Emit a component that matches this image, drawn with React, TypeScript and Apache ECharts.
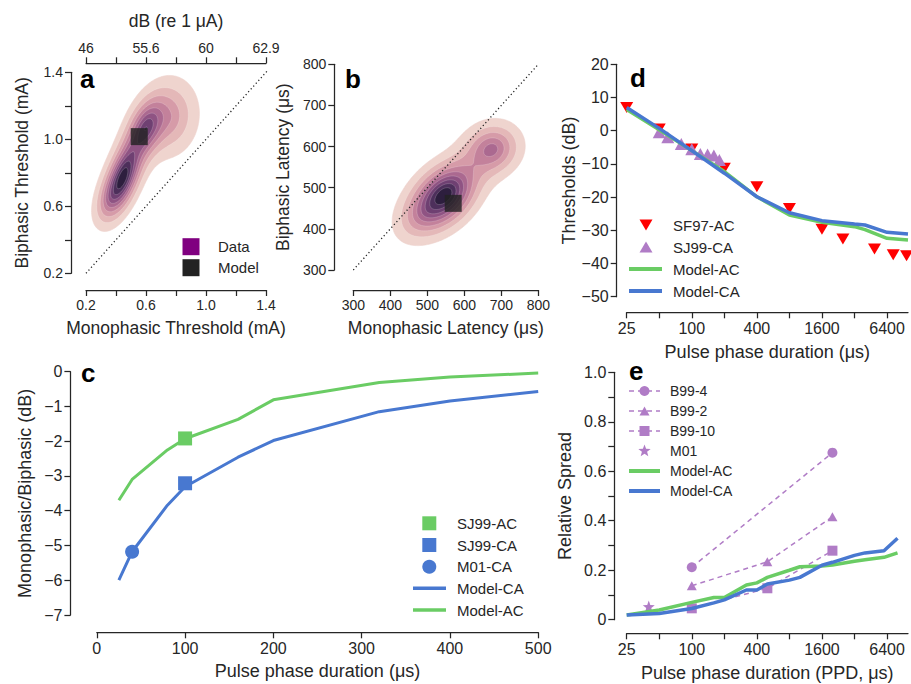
import React, { useEffect, useRef } from 'react';
import * as echarts from 'echarts';

const FONT = '"Liberation Sans", Arial, Helvetica, sans-serif';
const INK = '#262626';
const GREEN = '#6acc64';
const BLUE = '#4878d0';
const RED = '#ff0000';
const PURPLE = '#b07cc6';

// ---------- Panel a : thresholds ----------
const thrLabelVals = [0.2, 0.6, 1.0, 1.4];
const dbTickLabels = ['46', '55.6', '60', '62.9'];
// density surface components: [meanX, meanY, sdX, sdY, rho, height]
const thrKde = [
  [0.45, 0.78, 0.08, 0.135, 0.55, 1.0],
  [0.37, 0.66, 0.072, 0.1, 0.5, 0.3],
  [0.6, 1.07, 0.08, 0.11, 0.4, 0.7],
  [0.77, 1.13, 0.12, 0.15, 0.1, 0.37],
];
const thrModel = [[0.555, 1.016]];
const thrDiag = [[0.2, 0.2], [1.45, 1.45]];

// ---------- Panel b : latencies ----------
const latKde = [
  [550, 485, 52, 47, 0.35, 1.0],
  [495, 440, 52, 45, 0.4, 0.32],
  [675, 594, 47, 39, 0.1, 0.6],
];
const latModel = [[570, 462]];
const latDiag = [[300, 300], [800, 800]];

// ---------- Panel c ----------
const cPpd = [25, 40, 80, 100, 160, 200, 320, 400, 500];
const cModelAC = [-3.7, -3.1, -2.25, -1.93, -1.37, -0.81, -0.31, -0.15, -0.04];
const cModelCA = [-6.0, -5.18, -3.84, -3.31, -2.46, -1.98, -1.15, -0.84, -0.57];
const cSJ99AC = [[100, -1.92]];
const cSJ99CA = [[100, -3.21]];
const cM01CA = [[40, -5.18]];

// ---------- Panel d ----------
const logTicks = [25, 50, 100, 200, 400, 800, 1600, 3200, 6400];
const logLabels = [25, 100, 400, 1600, 6400];
const sf97Ppd = [25, 50, 100, 200, 400, 800, 1600, 2500, 4900, 7300, 9700];
const sf97Thr = [7, 0.5, -5.5, -11.3, -16.9, -23.4, -29.7, -32.6, -35.6, -37.4, -37.7];
const sj99Ppd = [50, 60, 80, 100, 120, 140, 160, 180];
const sj99Thr = [-0.5, -2, -4, -5.6, -7, -7.2, -7.5, -8.8];
const dModelPpd = [25, 50, 100, 200, 400, 800, 1600, 3200, 4000, 6400, 10000];
const dModelAC = [6.4, 0.3, -6.0, -12.3, -19.9, -25.4, -27.6, -28.9, -29.8, -32.4, -32.9];
const dModelCA = [7.0, 0.7, -6.0, -12.8, -19.9, -24.7, -27.1, -28.1, -28.4, -30.6, -31.1];

// ---------- Panel e ----------
const b99_4 = [[100, 0.212], [2000, 0.675]];
const b99_2 = [[100, 0.137], [500, 0.234], [2000, 0.416]];
const b99_10 = [[100, 0.046], [500, 0.127], [2000, 0.279]];
const m01 = [[40, 0.053]];
const eModelPpd = [25, 50, 100, 160, 200, 320, 400, 500, 800, 1000, 1600, 2000, 3200, 4000, 6000, 8000];
const eModelAC = [0.019, 0.039, 0.07, 0.09, 0.09, 0.14, 0.149, 0.171, 0.2, 0.214, 0.217, 0.221, 0.236, 0.242, 0.252, 0.27];
const eModelCA = [0.019, 0.025, 0.045, 0.068, 0.08, 0.12, 0.12, 0.144, 0.16, 0.171, 0.22, 0.232, 0.26, 0.27, 0.279, 0.329];

// ---------- helpers ----------
const zip = (xs: number[], ys: number[]) => xs.map((x, i) => [x, ys[i]]);
const minus = (v: number) => String(v).replace('-', '\u2212');

function cubehelix(x: number): string {
  const hue = 0.8, rot = 0.4, start = 0;
  const a = (hue * x * (1 - x)) / 2;
  const phi = 2 * Math.PI * (start / 3 + rot * x);
  const c = Math.cos(phi), s = Math.sin(phi);
  const cl = (v: number) => Math.round(Math.max(0, Math.min(1, v)) * 255);
  const r = cl(x + a * (-0.14861 * c + 1.78277 * s));
  const g = cl(x + a * (-0.29227 * c - 0.90649 * s));
  const b = cl(x + a * (1.97294 * c));
  return `rgb(${r},${g},${b})`;
}
const cmap = (t: number) => cubehelix(0.95 + (0.15 - 0.95) * t);

function dens(comps: number[][], x: number, y: number) {
  let s = 0;
  for (const [mx, my, sx, sy, rho, w] of comps) {
    const dx = (x - mx) / sx, dy = (y - my) / sy;
    const q = (dx * dx - 2 * rho * dx * dy + dy * dy) / (1 - rho * rho);
    s += w * Math.exp(-Math.pow(q / 2, 0.85));
  }
  return s;
}

type Pt = [number, number];
function isoLoops(xs: number[], ys: number[], z: number[][], L: number): Pt[][] {
  const pts = new Map<string, Pt>();
  const adj = new Map<string, string[]>();
  const add = (a: string, b: string) => {
    if (!adj.has(a)) adj.set(a, []);
    if (!adj.has(b)) adj.set(b, []);
    adj.get(a)!.push(b);
    adj.get(b)!.push(a);
  };
  const lerp = (x0: number, y0: number, v0: number, x1: number, y1: number, v1: number): Pt => {
    const t = (L - v0) / (v1 - v0);
    return [x0 + t * (x1 - x0), y0 + t * (y1 - y0)];
  };
  for (let j = 0; j < ys.length - 1; j++) {
    for (let i = 0; i < xs.length - 1; i++) {
      const v0 = z[j][i], v1 = z[j][i + 1], v2 = z[j + 1][i + 1], v3 = z[j + 1][i];
      const c = (v0 >= L ? 1 : 0) | (v1 >= L ? 2 : 0) | (v2 >= L ? 4 : 0) | (v3 >= L ? 8 : 0);
      if (c === 0 || c === 15) continue;
      const e = [
        () => { const k = `h${i},${j}`; if (!pts.has(k)) pts.set(k, lerp(xs[i], ys[j], v0, xs[i + 1], ys[j], v1)); return k; },
        () => { const k = `v${i + 1},${j}`; if (!pts.has(k)) pts.set(k, lerp(xs[i + 1], ys[j], v1, xs[i + 1], ys[j + 1], v2)); return k; },
        () => { const k = `h${i},${j + 1}`; if (!pts.has(k)) pts.set(k, lerp(xs[i], ys[j + 1], v3, xs[i + 1], ys[j + 1], v2)); return k; },
        () => { const k = `v${i},${j}`; if (!pts.has(k)) pts.set(k, lerp(xs[i], ys[j], v0, xs[i], ys[j + 1], v3)); return k; },
      ];
      const center = (v0 + v1 + v2 + v3) / 4 >= L;
      let pairs: number[][] = [];
      switch (c) {
        case 1: case 14: pairs = [[3, 0]]; break;
        case 2: case 13: pairs = [[0, 1]]; break;
        case 3: case 12: pairs = [[3, 1]]; break;
        case 4: case 11: pairs = [[1, 2]]; break;
        case 6: case 9: pairs = [[0, 2]]; break;
        case 7: case 8: pairs = [[3, 2]]; break;
        case 5: pairs = center ? [[0, 1], [2, 3]] : [[3, 0], [1, 2]]; break;
        case 10: pairs = center ? [[3, 0], [1, 2]] : [[0, 1], [2, 3]]; break;
      }
      for (const [a, b] of pairs) add(e[a](), e[b]());
    }
  }
  const seen = new Set<string>();
  const loops: Pt[][] = [];
  for (const start of adj.keys()) {
    if (seen.has(start)) continue;
    const loop: Pt[] = [];
    let prev: string | null = null;
    let cur = start;
    for (;;) {
      seen.add(cur);
      loop.push(pts.get(cur)!);
      const nb = adj.get(cur)!;
      const next = nb[0] === prev ? nb[1] : nb[0];
      if (next === undefined || seen.has(next)) break;
      prev = cur;
      cur = next;
    }
    if (loop.length > 2) loops.push(loop);
  }
  return loops;
}

const NLEV = 9;
function buildKde(comps: number[][], xr: number[], yr: number[], n: number) {
  const xs: number[] = [], ys: number[] = [];
  for (let i = 0; i <= n; i++) {
    xs.push(xr[0] + ((xr[1] - xr[0]) * i) / n);
    ys.push(yr[0] + ((yr[1] - yr[0]) * i) / n);
  }
  const z = ys.map((y) => xs.map((x) => dens(comps, x, y)));
  let zmax = 0;
  z.forEach((r) => r.forEach((v) => { if (v > zmax) zmax = v; }));
  const polys: { pts: Pt[]; color: string; k: number }[] = [];
  for (let k = 1; k <= NLEV; k++) {
    const L = (zmax * k) / (NLEV + 1);
    const color = cmap(k / NLEV);
    isoLoops(xs, ys, z, L).forEach((pts) => polys.push({ pts, color, k }));
  }
  return polys;
}

function starPath() {
  const p: string[] = [];
  for (let i = 0; i < 10; i++) {
    const r = i % 2 === 0 ? 1 : 0.42;
    const a = -Math.PI / 2 + (i * Math.PI) / 5;
    p.push(`${(r * Math.cos(a)).toFixed(3)},${(r * Math.sin(a)).toFixed(3)}`);
  }
  return p;
}

function kdeSeries(polys: { pts: Pt[]; color: string; k: number }[], xi: number, yi: number) {
  return {
    type: 'custom',
    xAxisIndex: xi,
    yAxisIndex: yi,
    clip: true,
    silent: true,
    z: 1,
    data: polys.map((p) => p.pts[0]),
    encode: { x: 0, y: 1 },
    renderItem: (params: any, api: any) => {
      const p = polys[params.dataIndex];
      return {
        type: 'polygon',
        shape: { points: p.pts.map((q) => api.coord(q)) },
        style: { fill: p.color, stroke: p.k > 1 ? 'rgba(255,255,255,0.3)' : p.color, lineWidth: 0.6 },
      };
    },
  };
}

function axis(fontSize: number, extra: any) {
  return {
    nameLocation: 'middle',
    nameTextStyle: { color: INK, fontSize: 18, fontFamily: FONT },
    axisLine: { show: true, onZero: false, lineStyle: { color: INK, width: 1.25 } },
    splitLine: { show: false },
    ...extra,
    axisTick: { show: true, length: 6, lineStyle: { color: INK, width: 1.25 }, ...(extra.axisTick || {}) },
    axisLabel: { color: INK, fontSize, fontFamily: FONT, margin: 8, ...(extra.axisLabel || {}) },
  };
}

const thrFmt = (v: number) => (thrLabelVals.some((t) => Math.abs(t - v) < 1e-6) ? v.toFixed(1) : '');
const dbFmt = (v: number) => {
  const i = thrLabelVals.findIndex((t) => Math.abs(t - v) < 1e-6);
  return i >= 0 ? dbTickLabels[i] : '';
};

export default function App() {
  const ref = useRef<HTMLDivElement>(null);
  useEffect(() => {
    if (!ref.current) return;
    const chart = echarts.init(ref.current, null, { renderer: 'svg' });
    const polysA = buildKde(thrKde, [0, 1.6], [0, 1.8], 160);
    const polysB = buildKde(latKde, [150, 1000], [150, 950], 170);
    const star = starPath();

    const txt = (x: number, y: number, s: string, size = 15, bold = false) => ({
      type: 'text', x, y, z: 100,
      style: { text: s, fill: bold ? '#000' : INK, fontSize: size, fontFamily: FONT, fontWeight: bold ? 'bold' : 'normal', textVerticalAlign: 'middle', verticalAlign: 'middle', textAlign: 'left', align: 'left' },
    });
    const rect = (cx: number, cy: number, s: number, fill: string) => ({ type: 'rect', z: 100, shape: { x: cx - s / 2, y: cy - s / 2, width: s, height: s }, style: { fill } });
    const circ = (cx: number, cy: number, r: number, fill: string) => ({ type: 'circle', z: 100, shape: { cx, cy, r }, style: { fill } });
    const seg = (x1: number, x2: number, y: number, stroke: string, w: number, dash?: number[]) => ({ type: 'line', z: 100, shape: { x1, y1: y, x2, y2: y }, style: { stroke, lineWidth: w, lineDash: dash || null } });
    const tri = (cx: number, cy: number, w: number, h: number, fill: string, down: boolean) => ({
      type: 'polygon', z: 100,
      shape: { points: down ? [[cx - w / 2, cy - h / 2], [cx + w / 2, cy - h / 2], [cx, cy + h / 2]] : [[cx - w / 2, cy + h / 2], [cx + w / 2, cy + h / 2], [cx, cy - h / 2]] },
      style: { fill },
    });
    const starG = (cx: number, cy: number, r: number, fill: string) => ({
      type: 'polygon', z: 100,
      shape: { points: star.map((s) => { const [a, b] = s.split(',').map(Number); return [cx + a * r, cy + b * r]; }) },
      style: { fill },
    });

    const graphic: any[] = [
      txt(80, 79, 'a', 26, true),
      txt(345, 79, 'b', 26, true),
      txt(81, 373, 'c', 26, true),
      txt(630, 78, 'd', 26, true),
      txt(629, 371, 'e', 26, true),
      // legend a
      rect(191, 246.7, 17, '#800080'), txt(218, 246.7, 'Data'),
      rect(191, 267.7, 17, '#222222'), txt(218, 267.7, 'Model'),
      // legend c
      rect(429.3, 523.3, 14, GREEN), txt(457, 523.3, 'SJ99-AC'),
      rect(429.3, 545, 14, BLUE), txt(457, 545, 'SJ99-CA'),
      circ(429.3, 566.7, 7, BLUE), txt(457, 566.7, 'M01-CA'),
      seg(413, 446, 588.3, BLUE, 3.5), txt(457, 588.3, 'Model-CA'),
      seg(413, 446, 610, GREEN, 3.5), txt(457, 610, 'Model-AC'),
      // legend d
      tri(646, 225, 13, 11, RED, true), txt(673, 225, 'SF97-AC'),
      tri(646, 247, 13, 11, PURPLE, false), txt(673, 247, 'SJ99-CA'),
      seg(629, 662, 269, GREEN, 4), txt(673, 269, 'Model-AC'),
      seg(629, 662, 291, BLUE, 4), txt(673, 291, 'Model-CA'),
      // legend e
      seg(629, 660, 391, PURPLE, 1.5, [5, 4]), circ(644.5, 391, 5, PURPLE), txt(670, 391, 'B99-4', 14),
      seg(629, 660, 411, PURPLE, 1.5, [5, 4]), tri(644.5, 411, 10, 9, PURPLE, false), txt(670, 411, 'B99-2', 14),
      seg(629, 660, 431, PURPLE, 1.5, [5, 4]), rect(644.5, 431, 10, PURPLE), txt(670, 431, 'B99-10', 14),
      starG(644.5, 451, 6.5, PURPLE), txt(670, 451, 'M01', 14),
      seg(629, 660, 471, GREEN, 4), txt(670, 471, 'Model-AC', 14),
      seg(629, 660, 491, BLUE, 4), txt(670, 491, 'Model-CA', 14),
    ];

    const logAxis = (gi: number, off: number) =>
      axis(16, {
        type: 'log', logBase: 2, gridIndex: gi, min: 25, max: 10000, offset: off,
        name: gi === 3 ? 'Pulse phase duration (\u03bcs)' : 'Pulse phase duration (PPD, \u03bcs)',
        nameGap: 31,
        axisTick: { customValues: logTicks },
        axisLabel: { customValues: logLabels, formatter: (v: number) => String(Math.round(v)) },
      });

    const option: any = {
      animation: false,
      backgroundColor: '#ffffff',
      graphic,
      grid: [
        { left: 86, top: 72.3, width: 180, height: 201 },
        { left: 353.3, top: 64.3, width: 185, height: 205.7 },
        { left: 96.8, top: 371.7, width: 441.4, height: 243.3 },
        { left: 626.7, top: 64.3, width: 281.3, height: 232.4 },
        { left: 626.7, top: 372.3, width: 281.3, height: 247.4 },
      ],
      xAxis: [
        axis(14, { type: 'value', gridIndex: 0, min: 0.2, max: 1.4, interval: 0.2, offset: 16.7, name: 'Monophasic Threshold (mA)', nameGap: 29, nameTextStyle: { color: INK, fontSize: 17.5, fontFamily: FONT }, axisLabel: { formatter: thrFmt } }),
        axis(14, { type: 'value', gridIndex: 0, position: 'top', min: 0.2, max: 1.4, interval: 0.2, offset: 9, name: 'dB (re 1 \u03bcA)', nameGap: 33, nameTextStyle: { color: INK, fontSize: 17.5, fontFamily: FONT }, axisLabel: { formatter: dbFmt } }),
        axis(14, { type: 'value', gridIndex: 1, min: 300, max: 800, interval: 100, offset: 20, name: 'Monophasic Latency (\u03bcs)', nameGap: 29, nameTextStyle: { color: INK, fontSize: 17.5, fontFamily: FONT } }),
        axis(16, { type: 'value', gridIndex: 2, min: 0, max: 500, interval: 100, offset: 17.3, name: 'Pulse phase duration (\u03bcs)', nameGap: 30 }),
        logAxis(3, 15.6),
        logAxis(4, 13.6),
      ],
      yAxis: [
        axis(14, { type: 'value', gridIndex: 0, min: 0.2, max: 1.4, interval: 0.2, offset: 15, name: 'Biphasic Threshold (mA)', nameGap: 40, nameTextStyle: { color: INK, fontSize: 17.5, fontFamily: FONT }, axisLabel: { formatter: thrFmt } }),
        axis(14, { type: 'value', gridIndex: 1, min: 300, max: 800, interval: 100, offset: 19, name: 'Biphasic Latency (\u03bcs)', nameGap: 42, nameTextStyle: { color: INK, fontSize: 17.5, fontFamily: FONT } }),
        axis(16, { type: 'value', gridIndex: 2, min: -7, max: 0, interval: 1, offset: 26.4, name: 'Monophasic/Biphasic (dB)', nameGap: 36, axisLabel: { formatter: minus } }),
        axis(16, { type: 'value', gridIndex: 3, min: -50, max: 20, interval: 10, offset: 10, name: 'Thresholds (dB)', nameGap: 38, axisLabel: { formatter: minus } }),
        axis(16, { type: 'value', gridIndex: 4, min: 0, max: 1, interval: 0.1, offset: 12.4, name: 'Relative Spread', nameGap: 40, axisLabel: { formatter: (v: number) => { const k = Math.round(v * 10); return k % 2 ? '' : k === 0 ? '0' : (k / 10).toFixed(1); } } }),
      ],
      series: [
        // a
        kdeSeries(polysA, 0, 0),
        { type: 'line', xAxisIndex: 0, yAxisIndex: 0, data: thrDiag, clip: false, symbol: 'none', z: 3, lineStyle: { color: '#222', width: 1.3, type: [1.2, 2.6] } },
        { type: 'scatter', xAxisIndex: 0, yAxisIndex: 0, data: thrModel, symbol: 'rect', symbolSize: 17, z: 4, itemStyle: { color: '#222222' } },
        // b
        kdeSeries(polysB, 2, 1),
        { type: 'line', xAxisIndex: 2, yAxisIndex: 1, data: latDiag, clip: false, symbol: 'none', z: 3, lineStyle: { color: '#222', width: 1.3, type: [1.2, 2.6] } },
        { type: 'scatter', xAxisIndex: 2, yAxisIndex: 1, data: latModel, symbol: 'rect', symbolSize: 17, z: 4, itemStyle: { color: '#222222' } },
        // c
        { name: 'Model-AC', type: 'line', xAxisIndex: 3, yAxisIndex: 2, data: zip(cPpd, cModelAC), symbol: 'none', z: 2, lineStyle: { color: GREEN, width: 3 } },
        { name: 'Model-CA', type: 'line', xAxisIndex: 3, yAxisIndex: 2, data: zip(cPpd, cModelCA), symbol: 'none', z: 2, lineStyle: { color: BLUE, width: 3 } },
        { name: 'SJ99-AC', type: 'scatter', xAxisIndex: 3, yAxisIndex: 2, data: cSJ99AC, symbol: 'rect', symbolSize: 14, z: 3, itemStyle: { color: GREEN, opacity: 1 } },
        { name: 'SJ99-CA', type: 'scatter', xAxisIndex: 3, yAxisIndex: 2, data: cSJ99CA, symbol: 'rect', symbolSize: 14, z: 3, itemStyle: { color: BLUE, opacity: 1 } },
        { name: 'M01-CA', type: 'scatter', xAxisIndex: 3, yAxisIndex: 2, data: cM01CA, symbol: 'circle', symbolSize: 14, z: 3, itemStyle: { color: BLUE, opacity: 1 } },
        // d
        { name: 'SF97-AC', type: 'scatter', xAxisIndex: 4, yAxisIndex: 3, data: zip(sf97Ppd, sf97Thr), symbol: 'triangle', symbolRotate: 180, symbolSize: [13, 11], z: 2, itemStyle: { color: RED, opacity: 1 } },
        { name: 'SJ99-CA', type: 'scatter', xAxisIndex: 4, yAxisIndex: 3, data: zip(sj99Ppd, sj99Thr), symbol: 'triangle', symbolSize: [13, 12], z: 2, itemStyle: { color: PURPLE, opacity: 1 } },
        { name: 'Model-AC', type: 'line', xAxisIndex: 4, yAxisIndex: 3, data: zip(dModelPpd, dModelAC), symbol: 'none', z: 3, lineStyle: { color: GREEN, width: 3.5 } },
        { name: 'Model-CA', type: 'line', xAxisIndex: 4, yAxisIndex: 3, data: zip(dModelPpd, dModelCA), symbol: 'none', z: 3, lineStyle: { color: BLUE, width: 3.5 } },
        // e
        { name: 'B99-4', type: 'line', xAxisIndex: 5, yAxisIndex: 4, data: b99_4, symbol: 'circle', symbolSize: 10, showSymbol: true, z: 2, lineStyle: { color: PURPLE, width: 1.5, type: [5, 4] }, itemStyle: { color: PURPLE } },
        { name: 'B99-2', type: 'line', xAxisIndex: 5, yAxisIndex: 4, data: b99_2, symbol: 'triangle', symbolSize: [10, 9], showSymbol: true, z: 2, lineStyle: { color: PURPLE, width: 1.5, type: [5, 4] }, itemStyle: { color: PURPLE } },
        { name: 'B99-10', type: 'line', xAxisIndex: 5, yAxisIndex: 4, data: b99_10, symbol: 'rect', symbolSize: 10, showSymbol: true, z: 2, lineStyle: { color: PURPLE, width: 1.5, type: [5, 4] }, itemStyle: { color: PURPLE } },
        { name: 'M01', type: 'scatter', xAxisIndex: 5, yAxisIndex: 4, data: m01, symbol: 'path://M' + star.join('L') + 'Z', symbolSize: 12, z: 2, itemStyle: { color: PURPLE, opacity: 1 } },
        { name: 'Model-AC', type: 'line', xAxisIndex: 5, yAxisIndex: 4, data: zip(eModelPpd, eModelAC), symbol: 'none', z: 3, lineStyle: { color: GREEN, width: 3.5 } },
        { name: 'Model-CA', type: 'line', xAxisIndex: 5, yAxisIndex: 4, data: zip(eModelPpd, eModelCA), symbol: 'none', z: 3, lineStyle: { color: BLUE, width: 3.5 } },
      ],
    };
    chart.setOption(option);
    return () => chart.dispose();
  }, []);
  return <div ref={ref} style={{ position: 'fixed', left: 0, top: 0, width: 911, height: 684, background: '#fff' }} />;
}
